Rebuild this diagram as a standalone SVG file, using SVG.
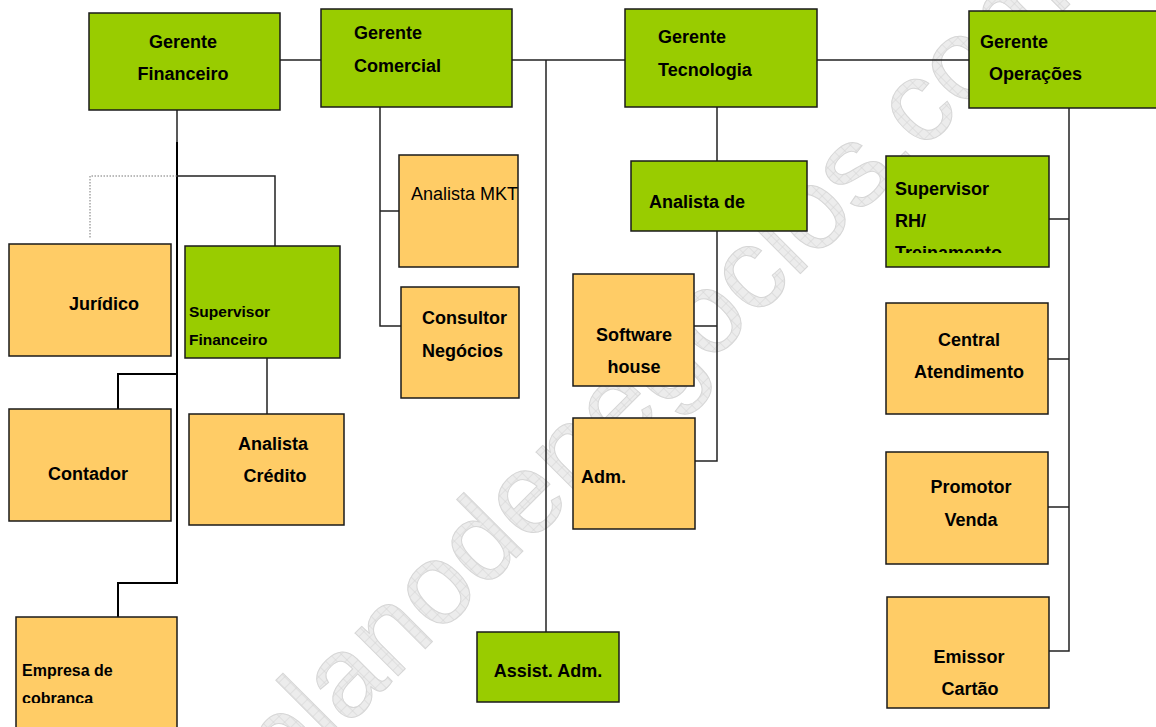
<svg xmlns="http://www.w3.org/2000/svg" width="1156" height="727" viewBox="0 0 1156 727">
<style>
.g{fill:#99CC00;stroke:#1a1a1a;stroke-width:1.5}
.o{fill:#FFCC66;stroke:#1a1a1a;stroke-width:1.5}
.t{font-family:"Liberation Sans",Arial,sans-serif;font-weight:bold;font-size:18px;fill:#000}
.c{text-anchor:middle}
.r{font-weight:normal}
.s{font-size:15.5px}
.e{font-size:16px}
.ln{fill:none;stroke:#222;stroke-width:1.5}
.th{fill:none;stroke:#000;stroke-width:2}
.dt{fill:none;stroke:#777;stroke-width:1;stroke-dasharray:1.5 1.5}
.wm{font-family:"Liberation Sans",Arial,sans-serif;font-size:115px;fill:url(#grid);stroke:#d6d6d6;stroke-width:1}
</style>
<defs>
<pattern id="grid" width="8" height="8" patternUnits="userSpaceOnUse">
<rect width="8" height="8" fill="#ececec"/>
<path d="M0 0H8M0 0V8" stroke="#d2d2d2" stroke-width="1"/>
</pattern>
<clipPath id="clipRH"><rect x="886" y="156" width="163" height="97"/></clipPath>
<clipPath id="clipEmp"><rect x="16" y="617" width="161" height="86"/></clipPath>
</defs>
<rect width="1156" height="727" fill="#fff"/>
<text class="wm" transform="translate(284,790) rotate(-45)">planodenegocios.com</text>
<g id="connectors">
<path class="ln" d="M280 60H321M512 60H625M817 60H969"/>
<path class="ln" d="M546 60V632"/>
<path class="ln" d="M380 107V326H401M380 211H399"/>
<path class="ln" d="M717 107V161M717 231V461H695M694 326H717"/>
<path class="ln" d="M1069 108V651H1049M1049 219H1069M1048 359H1069M1048 507H1069"/>
<path class="ln" d="M177 110V142"/>
<path class="th" d="M177 142V583H118V617M177 374H118V409"/>
<path class="ln" d="M177 176H275V246M267 358V414"/>
<path class="dt" d="M177 176H90V238"/>
</g>
<g id="gerente-financeiro"><rect class="g" x="89" y="13" width="191" height="97"/><text class="t c" x="183" y="48">Gerente</text><text class="t c" x="183" y="80">Financeiro</text></g>
<g id="gerente-comercial"><rect class="g" x="321" y="9" width="191" height="98"/><text class="t" x="354" y="39">Gerente</text><text class="t" x="354" y="72">Comercial</text></g>
<g id="gerente-tecnologia"><rect class="g" x="625" y="9" width="192" height="98"/><text class="t" x="658" y="43">Gerente</text><text class="t" x="658" y="76">Tecnologia</text></g>
<g id="gerente-operacoes"><rect class="g" x="969" y="11" width="200" height="97"/><text class="t" x="980" y="48">Gerente</text><text class="t" x="989" y="80">Operações</text></g>
<g id="analista-mkt"><rect class="o" x="399" y="155" width="119" height="112"/><text class="t r" x="411" y="200">Analista MKT</text></g>
<g id="consultor-negocios"><rect class="o" x="401" y="287" width="118" height="111"/><text class="t" x="422" y="324">Consultor</text><text class="t" x="422" y="357">Negócios</text></g>
<g id="analista-de"><rect class="g" x="631" y="161" width="176" height="70"/><text class="t" x="649" y="208">Analista de</text></g>
<g id="supervisor-rh"><rect class="g" x="886" y="156" width="163" height="111"/><g clip-path="url(#clipRH)"><text class="t" x="895" y="195">Supervisor</text><text class="t" x="895" y="227">RH/</text><text class="t" x="895" y="259">Treinamento</text></g></g>
<g id="juridico"><rect class="o" x="9" y="244" width="162" height="112"/><text class="t c" x="104" y="310">Jurídico</text></g>
<g id="supervisor-financeiro"><rect class="g" x="185" y="246" width="155" height="112"/><text class="t s" x="189" y="317">Supervisor</text><text class="t s" x="189" y="345">Financeiro</text></g>
<g id="contador"><rect class="o" x="9" y="409" width="162" height="112"/><text class="t c" x="88" y="480">Contador</text></g>
<g id="analista-credito"><rect class="o" x="189" y="414" width="155" height="111"/><text class="t c" x="273" y="450">Analista</text><text class="t c" x="275" y="482">Crédito</text></g>
<g id="empresa-cobranca"><rect class="o" x="16" y="617" width="161" height="125"/><g clip-path="url(#clipEmp)"><text class="t e" x="22" y="676">Empresa de</text><text class="t e" x="22" y="704">cobrança</text></g></g>
<g id="software-house"><rect class="o" x="573" y="274" width="121" height="112"/><text class="t c" x="634" y="341">Software</text><text class="t c" x="634" y="373">house</text></g>
<g id="adm"><rect class="o" x="573" y="418" width="122" height="111"/><text class="t" x="581" y="483">Adm.</text></g>
<g id="assist-adm"><rect class="g" x="477" y="632" width="142" height="70"/><text class="t c" x="548" y="677">Assist. Adm.</text></g>
<g id="central-atendimento"><rect class="o" x="886" y="303" width="162" height="111"/><text class="t c" x="969" y="346">Central</text><text class="t c" x="969" y="378">Atendimento</text></g>
<g id="promotor-venda"><rect class="o" x="886" y="452" width="162" height="112"/><text class="t c" x="971" y="493">Promotor</text><text class="t c" x="971" y="526">Venda</text></g>
<g id="emissor-cartao"><rect class="o" x="887" y="597" width="162" height="111"/><text class="t c" x="969" y="663">Emissor</text><text class="t c" x="970" y="695">Cartão</text></g>
</svg>
